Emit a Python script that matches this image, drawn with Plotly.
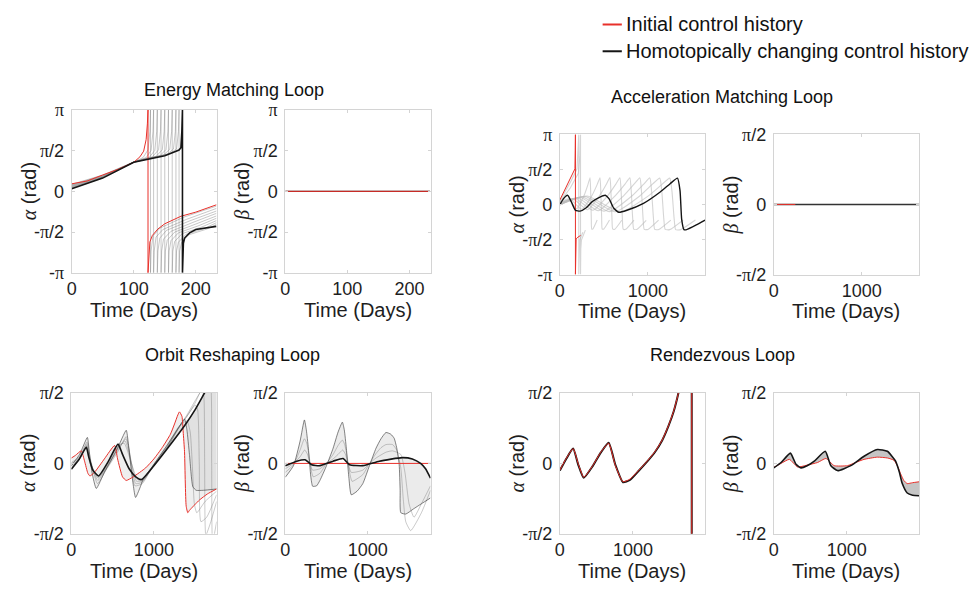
import math
import plotly.graph_objects as go

PI = math.pi
W, H = 977, 596
FONT = "Liberation Sans, Arial, sans-serif"
SERIF = "Liberation Serif, Times New Roman, serif"

# ---------------- Energy Matching Loop (alpha) ----------------
E_RED_T = [0, 25, 50, 75, 100, 110, 116, 120, 122, 123, 123, 124, 126, 130, 139, 150, 176, 200, 233]
E_RED_A = [0.29, 0.40, 0.63, 0.85, 1.12, 1.33, 1.55, 2.0, 2.6, PI, -PI, -2.5, -1.95, -1.70, -1.45, -1.25, -0.96, -0.80, -0.52]
E_BLK_T = [0, 50, 100, 150, 173, 176, 177.5, 178.5, 178.5, 179, 180, 182, 190, 200, 233]
E_BLK_A = [0.10, 0.51, 1.12, 1.37, 1.59, 1.68, 2.3, PI, -PI, -2.4, -2.0, -1.8, -1.6, -1.47, -1.35]
E_GRAY_T = [
    [0, 50, 100, 115, 123, 126, 127, 127, 128, 131, 142, 180, 233],
    [0, 50, 100, 120, 128, 131, 132, 132, 133, 136, 147, 185, 233],
    [0, 50, 100, 125, 134, 137, 138, 138, 139, 142, 153, 190, 233],
    [0, 50, 100, 130, 140, 143, 144, 144, 145, 148, 160, 195, 233],
    [0, 50, 100, 136, 146, 149, 150, 150, 151, 154, 166, 200, 233],
    [0, 50, 100, 142, 152, 155, 156, 156, 157, 160, 172, 205, 233],
    [0, 50, 100, 148, 158, 161, 162, 162, 163, 166, 178, 210, 233],
    [0, 50, 100, 154, 164, 167, 168, 168, 169, 172, 184, 215, 233],
    [0, 50, 100, 158, 169, 172, 173, 173, 174, 177, 188, 218, 233],
]
E_GRAY_A = [
    [0.27, 0.63, 1.13, 1.30, 1.60, 2.3, PI, -PI, -2.3, -1.72, -1.42, -1.00, -0.57],
    [0.25, 0.61, 1.13, 1.30, 1.58, 2.3, PI, -PI, -2.3, -1.76, -1.47, -1.08, -0.66],
    [0.23, 0.59, 1.13, 1.31, 1.58, 2.3, PI, -PI, -2.3, -1.80, -1.50, -1.14, -0.76],
    [0.21, 0.58, 1.13, 1.33, 1.60, 2.3, PI, -PI, -2.3, -1.84, -1.54, -1.20, -0.85],
    [0.19, 0.56, 1.13, 1.35, 1.60, 2.3, PI, -PI, -2.3, -1.88, -1.57, -1.26, -0.95],
    [0.17, 0.55, 1.13, 1.37, 1.61, 2.3, PI, -PI, -2.3, -1.90, -1.60, -1.32, -1.04],
    [0.15, 0.54, 1.12, 1.40, 1.62, 2.3, PI, -PI, -2.3, -1.93, -1.63, -1.37, -1.13],
    [0.13, 0.53, 1.12, 1.43, 1.63, 2.3, PI, -PI, -2.3, -1.96, -1.66, -1.42, -1.21],
    [0.11, 0.52, 1.12, 1.46, 1.63, 2.3, PI, -PI, -2.3, -1.98, -1.68, -1.45, -1.28],
]
# ---------------- Energy Matching Loop (beta) ----------------
EB_RED_T = [0, 233]
EB_RED_A = [0, 0]
EB_BLK_T = [0, 233]
EB_BLK_A = [0, 0]

# ---------------- Acceleration Matching Loop (alpha) ----------------
A_RED_T = [0, 60, 120, 172, 175, 177, 177, 179, 185, 205, 235]
A_RED_A = [0.20, 0.69, 1.18, 1.60, 2.4, PI, -PI, -2.2, -1.54, -1.47, -1.39]
A_BLK_T = [0, 40, 88, 130, 177, 230, 300, 366, 450, 516, 560, 611, 668, 762, 950, 1140, 1250, 1336, 1365, 1384, 1410, 1441, 1550, 1650]
A_BLK_A = [-0.02, 0.25, 0.41, 0.12, -0.26, -0.30, -0.15, 0.12, 0.32, 0.41, 0.25, -0.16, -0.35, -0.26, 0.05, 0.56, 0.92, 1.18, 0.63, -0.67, -1.13, -1.13, -0.92, -0.70]
A_WRAP_T = [
    [0, 60, 120, 195, 208, 215, 215, 218, 225, 262],
    [0, 60, 120, 210, 228, 235, 235, 238, 245, 290],
]
A_WRAP_A = [
    [0.15, 0.55, 1.0, 1.6, 2.3, PI, -PI, -2.0, -1.6, -1.25],
    [0.10, 0.40, 0.75, 1.4, 2.2, PI, -PI, -2.0, -1.6, -1.15],
]
A_GRAY_T = [
    [0, 100, 190, 275, 320, 343, 350, 357, 362, 375, 424],
    [0, 120, 250, 365, 425, 456, 465, 475, 481, 500, 564],
    [0, 150, 313, 455, 530, 569, 580, 592, 600, 625, 703],
    [0, 170, 375, 545, 634, 682, 696, 710, 720, 750, 842],
    [0, 200, 437, 636, 740, 795, 811, 827, 839, 874, 981],
    [0, 230, 500, 727, 845, 909, 927, 945, 959, 1000, 1122],
    [0, 255, 562, 818, 950, 1022, 1042, 1063, 1078, 1124, 1261],
    [0, 285, 624, 908, 1055, 1135, 1158, 1180, 1197, 1248, 1400],
    [0, 310, 686, 998, 1160, 1248, 1273, 1298, 1316, 1373, 1540],
]
A_GRAY_A = [
    [0.12, 0.25, -0.20, 0.40, 0.90, 1.20, 0.60, -0.60, -1.10, -1.10, -0.70],
    [0.08, 0.22, -0.22, 0.40, 0.90, 1.20, 0.60, -0.60, -1.10, -1.10, -0.70],
    [0.06, 0.25, -0.24, 0.42, 0.92, 1.21, 0.60, -0.60, -1.10, -1.11, -0.71],
    [0.04, 0.28, -0.26, 0.40, 0.90, 1.20, 0.60, -0.60, -1.11, -1.11, -0.70],
    [0.02, 0.30, -0.28, 0.42, 0.91, 1.20, 0.60, -0.60, -1.11, -1.12, -0.71],
    [0.00, 0.32, -0.30, 0.40, 0.92, 1.19, 0.60, -0.60, -1.12, -1.12, -0.70],
    [0.00, 0.34, -0.32, 0.38, 0.90, 1.19, 0.60, -0.60, -1.12, -1.12, -0.70],
    [-0.01, 0.36, -0.33, 0.38, 0.92, 1.18, 0.60, -0.60, -1.12, -1.13, -0.70],
    [-0.01, 0.38, -0.34, 0.36, 0.90, 1.18, 0.62, -0.62, -1.13, -1.13, -0.70],
]
# ---------------- Acceleration Matching Loop (beta) ----------------
AB_RED_T = [0, 245]
AB_RED_A = [0, 0]
AB_BLK_T = [0, 1650]
AB_BLK_A = [0, 0]

# ---------------- Orbit Reshaping Loop (alpha) ----------------
OA_RED_T = [0, 50, 120, 160, 200, 225, 280, 400, 524, 560, 620, 665, 750, 900, 1000, 1100, 1200, 1250, 1290, 1310, 1340, 1355, 1371, 1391, 1411, 1430, 1550, 1650, 1760]
OA_RED_A = [0.12, 0.18, 0.28, 0.05, -0.22, -0.28, -0.20, 0.10, 0.40, 0.10, -0.30, -0.38, -0.30, -0.10, 0.10, 0.35, 0.65, 0.88, 1.08, 1.15, 1.05, 0.70, 0.27, -0.95, -1.10, -1.05, -0.82, -0.68, -0.57]
OA_BLK_T = [0, 90, 181, 210, 260, 330, 450, 565, 620, 700, 780, 850, 1000, 1150, 1371, 1500, 1613, 1700, 1760]
OA_BLK_A = [-0.13, 0.08, 0.36, 0.15, -0.15, -0.28, 0.05, 0.43, 0.20, -0.12, -0.30, -0.36, -0.05, 0.30, 0.84, 1.20, 1.57, 1.85, 2.00]
OA_EXT_T = [0, 100, 194, 215, 250, 302, 400, 550, 665, 690, 730, 778, 830, 870, 1000, 1150, 1300, 1371, 1400, 1431, 1472, 1512, 1600, 1760]
OA_EXT_A = [-0.05, 0.20, 0.58, 0.30, -0.20, -0.56, -0.20, 0.30, 0.74, 0.45, -0.20, -0.76, -0.55, -0.36, -0.02, 0.38, 0.80, 0.99, 0.75, 0.20, -0.52, -0.60, -0.60, -0.57]
OA_GRAY_T = [
    [0, 100, 190, 225, 316, 420, 560, 665, 700, 770, 860, 1000, 1150, 1300, 1400, 1440, 1470, 1490, 1520, 1620, 1760],
    [0, 100, 188, 225, 320, 430, 565, 660, 705, 780, 860, 1000, 1150, 1300, 1400, 1500, 1530, 1550, 1570, 1640, 1760],
    [0, 100, 185, 225, 325, 440, 570, 650, 710, 790, 860, 1000, 1150, 1300, 1400, 1500, 1580, 1605, 1615, 1630, 1690, 1760],
    [0, 100, 183, 225, 330, 450, 572, 640, 720, 800, 860, 1000, 1150, 1300, 1400, 1500, 1600, 1680, 1700, 1710, 1730, 1760],
]
OA_GRAY_A = [
    [0.02, 0.15, 0.48, 0.15, -0.45, -0.15, 0.25, 0.60, 0.30, -0.50, -0.45, -0.02, 0.36, 0.82, 0.95, 0.70, -0.20, -0.90, -1.10, -0.85, -0.62],
    [0.00, 0.12, 0.44, 0.10, -0.38, -0.10, 0.30, 0.55, 0.25, -0.45, -0.42, -0.03, 0.34, 0.80, 1.05, 1.30, 1.20, 0.00, -1.30, -1.20, -0.70],
    [-0.05, 0.10, 0.40, 0.05, -0.33, -0.05, 0.35, 0.50, 0.15, -0.40, -0.40, -0.04, 0.32, 0.78, 1.05, 1.35, 1.65, 1.50, 0.00, -1.60, -1.30, -0.85],
    [-0.10, 0.09, 0.38, 0.00, -0.30, 0.00, 0.40, 0.45, 0.05, -0.36, -0.38, -0.05, 0.31, 0.80, 1.08, 1.40, 1.70, 1.90, 0.00, -1.70, -1.60, -1.30],
]

# ---------------- Orbit Reshaping Loop (beta) ----------------
OB_RED_T = [0, 1760]
OB_RED_A = [0, 0]
OB_BLK_T = [0, 140, 240, 320, 420, 580, 700, 780, 940, 1140, 1420, 1540, 1640, 1700, 1760]
OB_BLK_A = [-0.05, 0.05, 0.08, -0.03, -0.05, 0.05, 0.11, -0.03, -0.05, 0.05, 0.13, 0.10, 0.00, -0.12, -0.33]
OB_EXT_T = [0, 100, 180, 232, 255, 280, 310, 332, 380, 420, 500, 580, 640, 692, 715, 740, 770, 800, 870, 940, 1020, 1100, 1160, 1220, 1280, 1320, 1350, 1380, 1392, 1400, 1460, 1550, 1650, 1760]
OB_EXT_A = [-0.31, -0.05, 0.50, 0.97, 0.75, 0.34, -0.30, -0.51, -0.50, -0.38, -0.05, 0.34, 0.70, 0.92, 0.75, 0.34, -0.30, -0.70, -0.62, -0.45, -0.05, 0.34, 0.55, 0.69, 0.65, 0.56, 0.35, -0.02, -0.60, -1.10, -1.13, -1.02, -0.90, -0.77]
OB_GRAY_T = [
    [0, 100, 180, 232, 260, 290, 320, 340, 420, 500, 580, 640, 692, 720, 750, 785, 810, 940, 1020, 1100, 1160, 1220, 1300, 1350, 1400, 1430, 1460, 1520, 1650, 1760],
    [0, 100, 180, 236, 270, 300, 330, 420, 500, 580, 640, 696, 730, 760, 800, 940, 1020, 1100, 1220, 1300, 1400, 1450, 1500, 1560, 1650, 1760],
]
OB_GRAY_A = [
    [-0.20, -0.03, 0.30, 0.55, 0.45, 0.15, -0.20, -0.30, -0.22, 0.00, 0.20, 0.40, 0.52, 0.42, 0.15, -0.25, -0.40, -0.25, 0.00, 0.22, 0.35, 0.42, 0.42, 0.30, -0.10, -0.80, -1.30, -1.50, -1.10, -0.60],
    [-0.12, 0.00, 0.15, 0.30, 0.20, 0.00, -0.15, -0.12, 0.00, 0.10, 0.20, 0.30, 0.20, 0.00, -0.20, -0.15, 0.00, 0.12, 0.25, 0.28, 0.20, -0.20, -0.90, -1.20, -0.90, -0.50],
]

# ---------------- Rendezvous Loop (alpha) ----------------
R_T = [0, 90, 182, 250, 327, 450, 560, 668, 760, 864, 960, 1077, 1200, 1305, 1400, 1486, 1560, 1623, 1700, 1760, 1805, 1805, 1850, 1990]
R_RED_A = [-0.15, 0.12, 0.33, 0.00, -0.31, -0.05, 0.25, 0.45, -0.05, -0.41, -0.35, -0.16, 0.06, 0.27, 0.52, 0.84, 1.18, 1.57, 2.2, 2.7, PI, -PI, -2.9, -2.6]
R_BLK_A = [-0.16, 0.11, 0.33, -0.02, -0.32, -0.06, 0.24, 0.46, -0.03, -0.42, -0.37, -0.17, 0.05, 0.26, 0.51, 0.83, 1.17, 1.57, 2.2, 2.7, PI, -PI, -2.9, -2.6]
R_WRAP = 20  # index of the sample where the angle wraps from +pi to -pi

# ---------------- Rendezvous Loop (beta) ----------------
RB_RED_T = [0, 100, 214, 327, 450, 600, 714, 827, 1009, 1120, 1236, 1418, 1560, 1645, 1700, 1736, 1780, 1827, 1900, 1990]
RB_RED_A = [-0.09, 0.00, 0.09, -0.08, -0.04, 0.02, 0.11, -0.05, -0.05, 0.02, 0.09, 0.14, 0.12, 0.07, -0.08, -0.23, -0.38, -0.45, -0.43, -0.41]
RB_BLK_T = [0, 100, 227, 305, 373, 450, 555, 705, 782, 873, 1055, 1236, 1418, 1555, 1668, 1720, 1759, 1827, 1900, 1990]
RB_BLK_A = [-0.10, 0.02, 0.23, -0.02, -0.10, -0.06, 0.05, 0.27, -0.05, -0.16, -0.05, 0.16, 0.31, 0.27, 0.05, -0.20, -0.45, -0.66, -0.71, -0.72]

# ---------------- text ----------------
TITLES = ["Energy Matching Loop", "Acceleration Matching Loop", "Orbit Reshaping Loop", "Rendezvous Loop"]
LEGEND_LABELS = ["Initial control history", "Homotopically changing control history"]
X_LABEL = "Time (Days)"

# ---------------- layout geometry (pixels) ----------------
PANELS = [
    (67, 213, 103.3, 272), (281.7, 427.7, 103.3, 272),
    (557.7, 703.7, 128.7, 273.7), (772.7, 918.7, 128.7, 273.7),
    (66.7, 212.7, 396.3, 542), (281.7, 427.7, 396.3, 542),
    (557.7, 703.7, 396.3, 542), (772.7, 918.7, 396.3, 542),
]
XRANGES = [234, 234, 1650, 1650, 1760, 1760, 1988, 1988]
XTICKS = [[0, 100, 200]] * 2 + [[0, 1000]] * 6
FULL = [True, True, True, False, False, False, False, False]
SYM = ["α", "β", "α", "β", "α", "β", "α", "β"]

RED = "#e8302a"
BLK = "#151515"

fig = go.Figure()


def ax(n):
    return ("x" if n == 1 else f"x{n}"), ("y" if n == 1 else f"y{n}")


def line(n, t, a, color, width, smooth=False):
    xa, ya = ax(n)
    ln = dict(color=color, width=width)
    if smooth:
        ln.update(shape="spline", smoothing=0.5)
    fig.add_trace(go.Scatter(x=t, y=a, xaxis=xa, yaxis=ya, mode="lines", line=ln,
                             hoverinfo="skip", showlegend=False))


def band(n, t1, a1, t2, a2, color):
    xa, ya = ax(n)
    fig.add_trace(go.Scatter(x=list(t1) + list(t2)[::-1], y=list(a1) + list(a2)[::-1],
                             xaxis=xa, yaxis=ya, mode="lines", fill="toself",
                             fillcolor=color, line=dict(width=0, shape="spline", smoothing=0.5),
                             hoverinfo="skip", showlegend=False))


# Panel 1
for t, a in zip(E_GRAY_T, E_GRAY_A):
    line(1, t, a, "rgba(110,110,110,0.55)", 0.7)
line(1, E_RED_T, E_RED_A, RED, 1)
line(1, E_BLK_T, E_BLK_A, BLK, 1.6)
# Panel 2
line(2, EB_BLK_T, EB_BLK_A, BLK, 1.4)
line(2, EB_RED_T, EB_RED_A, RED, 1)
# Panel 3
for t, a in zip(A_WRAP_T, A_WRAP_A):
    line(3, t, a, "rgba(185,185,185,0.6)", 1.1)
for t, a in zip(A_GRAY_T, A_GRAY_A):
    line(3, t, a, "rgba(185,185,185,0.6)", 1.1, smooth=True)
line(3, A_RED_T, A_RED_A, RED, 1)
line(3, A_BLK_T, A_BLK_A, BLK, 1.4, smooth=True)
# Panel 4
line(4, AB_BLK_T, AB_BLK_A, "#333333", 1.4)
line(4, AB_RED_T, AB_RED_A, RED, 1)
# Panel 5
band(5, OA_EXT_T, OA_EXT_A, OA_BLK_T, OA_BLK_A, "rgba(120,120,120,0.12)")
band(5, OA_RED_T, OA_RED_A, OA_BLK_T, OA_BLK_A, "rgba(120,120,120,0.12)")
for t, a in zip(OA_GRAY_T, OA_GRAY_A):
    line(5, t, a, "rgba(90,90,90,0.45)", 0.7, smooth=True)
line(5, OA_EXT_T, OA_EXT_A, "rgba(60,60,60,0.7)", 0.9, smooth=True)
line(5, OA_RED_T, OA_RED_A, RED, 1, smooth=True)
line(5, OA_BLK_T, OA_BLK_A, BLK, 1.6, smooth=True)
# Panel 6
band(6, OB_EXT_T, OB_EXT_A, OB_BLK_T, OB_BLK_A, "rgba(120,120,120,0.15)")
for t, a in zip(OB_GRAY_T, OB_GRAY_A):
    line(6, t, a, "rgba(90,90,90,0.45)", 0.7, smooth=True)
line(6, OB_EXT_T, OB_EXT_A, "rgba(60,60,60,0.7)", 0.9, smooth=True)
line(6, OB_RED_T, OB_RED_A, RED, 1)
line(6, OB_BLK_T, OB_BLK_A, BLK, 1.6, smooth=True)
# Panel 7: smooth part up to the wrap, straight wrap segment after it
for vals, col, wd in [(R_BLK_A, BLK, 2), (R_RED_A, RED, 1)]:
    line(7, R_T[:R_WRAP + 1], vals[:R_WRAP + 1], col, wd, smooth=True)
    line(7, R_T[R_WRAP:], vals[R_WRAP:], col, wd)
# Panel 8
band(8, RB_RED_T, RB_RED_A, RB_BLK_T, RB_BLK_A, "rgba(90,90,90,0.35)")
line(8, RB_RED_T, RB_RED_A, RED, 1, smooth=True)
line(8, RB_BLK_T, RB_BLK_A, BLK, 1.6, smooth=True)

PI_S = f'<span style="font-family:{SERIF}">π</span>'
layout = dict(width=W, height=H, margin=dict(l=0, r=0, t=0, b=0),
              paper_bgcolor="white", plot_bgcolor="white", showlegend=False)
axis_style = dict(showline=True, linecolor="#d4d4d4", linewidth=1, mirror="ticks",
                  ticks="inside", ticklen=3, tickcolor="#d4d4d4", showgrid=False,
                  zeroline=False, tickfont=dict(family=FONT, size=18, color="#1e1e1e"))
annotations = []
for i, (l, r, tp, bt) in enumerate(PANELS):
    n = i + 1
    xa, ya = ax(n)
    xk = "xaxis" if n == 1 else f"xaxis{n}"
    yk = "yaxis" if n == 1 else f"yaxis{n}"
    if FULL[i]:
        yv = [-PI, -PI / 2, 0, PI / 2, PI]
        yt = ["-" + PI_S, "-" + PI_S + "/2", "0", PI_S + "/2", PI_S]
        yr = [-PI, PI]
    else:
        yv = [-PI / 2, 0, PI / 2]
        yt = ["-" + PI_S + "/2", "0", PI_S + "/2"]
        yr = [-PI / 2, PI / 2]
    layout[xk] = dict(axis_style, domain=[l / W, r / W], anchor=ya, range=[0, XRANGES[i]],
                      tickvals=XTICKS[i], ticktext=[str(v) for v in XTICKS[i]])
    layout[yk] = dict(axis_style, domain=[1 - bt / H, 1 - tp / H], anchor=xa, range=yr,
                      tickvals=yv, ticktext=yt, ticklabelstandoff=3)
    annotations.append(dict(xref="paper", yref="paper", x=(l + r) / 2 / W, y=1 - (bt + 38) / H,
                            text=X_LABEL, showarrow=False, xanchor="center", yanchor="middle",
                            font=dict(family=FONT, size=20, color="#1e1e1e")))
    annotations.append(dict(xref="paper", yref="paper", x=(l - 43) / W, y=1 - (tp + bt) / 2 / H,
                            text=f'<span style="font-family:{SERIF}"><i>{SYM[i]}</i></span> (rad)',
                            textangle=-90, showarrow=False, xanchor="center", yanchor="middle",
                            font=dict(family=FONT, size=20, color="#1e1e1e")))

TITLE_POS = [(230, 83), (721, 90), (229, 357), (721, 357)]
for txt, (x, y) in zip(TITLES, TITLE_POS):
    annotations.append(dict(xref="paper", yref="paper", x=x / W, y=1 - y / H, text=txt,
                            showarrow=False, xanchor="center", yanchor="middle",
                            font=dict(family=FONT, size=18, color="#111111")))

shapes = []
for txt, col, y in zip(LEGEND_LABELS, [RED, BLK], [15, 42.7]):
    shapes.append(dict(type="line", xref="paper", yref="paper", x0=600.7 / W, x1=620 / W,
                       y0=1 - y / H, y1=1 - y / H, line=dict(color=col, width=2)))
    annotations.append(dict(xref="paper", yref="paper", x=622 / W, y=1 - y / H, text=txt,
                            showarrow=False, xanchor="left", yanchor="middle",
                            font=dict(family=FONT, size=20, color="#111111")))

layout["annotations"] = annotations
layout["shapes"] = shapes
fig.update_layout(**layout)
fig.write_html("out.html")
